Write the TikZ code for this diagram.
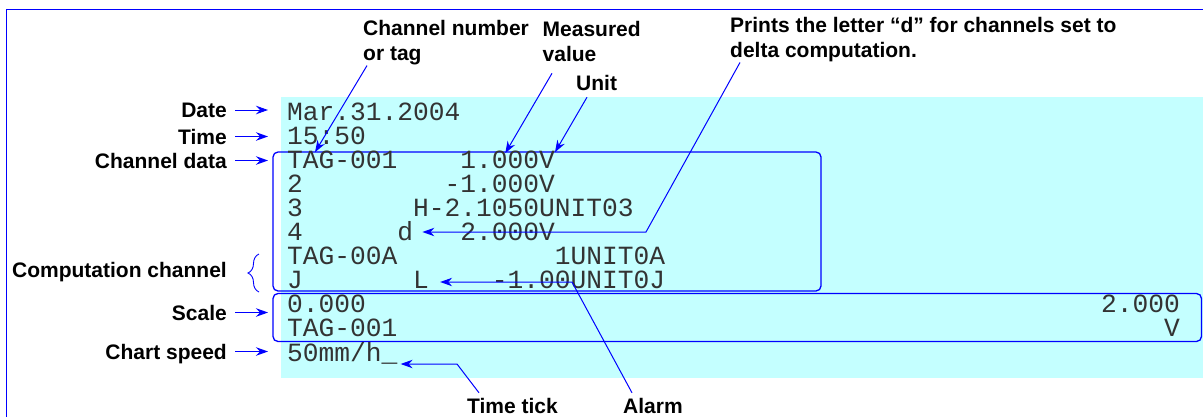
\documentclass[tikz,border=0pt]{standalone}
\usepackage{fontspec}
\setmainfont{Liberation Sans}
\newfontfamily\monofont{Liberation Mono}
\usetikzlibrary{arrows.meta, decorations.pathreplacing, calc}
\definecolor{mBlue}{HTML}{0000FF}
\definecolor{mCyan}{HTML}{C4FFFF}
\definecolor{mText}{HTML}{333333}
\newcommand{\colw}{15.75}
\tikzset{
  lbl/.style={font=\bfseries\fontsize{21}{25}\selectfont, inner sep=0pt,
              text height=15pt, text depth=0pt},
  tlbl/.style={font=\bfseries\fontsize{21}{25}\selectfont, inner sep=0pt,
               align=left, anchor=north west},
  mono/.style={font=\monofont\fontsize{26.25}{24}\selectfont, text=mText,
               inner sep=0pt, anchor=base west},
  callout/.style={mBlue, line width=1pt, -{Stealth[length=12pt, width=8.5pt, inset=4pt]}},
  grp/.style={draw=mBlue, line width=1.3pt, rounded corners=5pt},
}

\begin{document}
\begin{tikzpicture}[x=1pt, y=-1pt]
    \useasboundingbox (0,0) rectangle (1203,416);
    \fill[mCyan] (281,97) rectangle (1203,378);
    \draw[mBlue, line width=1.2pt] (6.5,420) -- (6.5,9.5) -- (1210,9.5);
    \draw[grp] (273,152) rectangle (821,291);
    \draw[grp] (273,293.5) rectangle (1201.5,341.5);
    \node[mono] (date) at (287,120) {Mar.31.2004};
    \node[mono] (time) at (287,144.1) {15:50};
    \node[mono] (tag1) at (287,168.2) {TAG-001};
    \node[mono] (val1) at ({287+11*\colw},168.2) {1.000};
    \node[mono] (unit1) at ({287+16*\colw},168.2) {V};
    \node[mono] (ch2) at (287,192.3) {2};
    \node[mono] (val2) at ({287+10*\colw},192.3) {-1.000V};
    \node[mono] (ch3) at (287,216.4) {3};
    \node[mono] (val3) at ({287+8*\colw},216.4) {H-2.1050UNIT03};
    \node[mono] (ch4) at (287,240.5) {4};
    \node[mono] (delta) at ({287+7*\colw},240.5) {d};
    \node[mono] (val4) at ({287+11*\colw},240.5) {2.000V};
    \node[mono] (chA) at (287,264.6) {TAG-00A};
    \node[mono] (valA) at ({287+17*\colw},264.6) {1UNIT0A};
    \node[mono] (chJ) at (287,288.7) {J};
    \node[mono] (alarm) at ({287+8*\colw},288.7) {L};
    \node[mono] (valJ) at ({287+13*\colw},288.7) {-1.00UNIT0J};
    \node[mono] (smin) at (287,312.8) {0.000};
    \node[mono, anchor=base east] (smax) at (1180,312.8) {2.000};
    \node[mono] (stag) at (287,336.9) {TAG-001};
    \node[mono, anchor=base east] (sunit) at (1180,336.9) {V};
    \node[mono] (speed) at (287,361) {50mm/h};
    \node[mono] (tick) at ({287+6*\colw},361) {\_};
    \node[lbl, anchor=east] (lDate) at (227,110) {Date};
    \node[lbl, anchor=east] (lTime) at (227,136.5) {Time};
    \node[lbl, anchor=east] (lData) at (227,160.5) {Channel data};
    \node[lbl, anchor=east] (lComp) at (227,270) {Computation channel};
    \node[lbl, anchor=east] (lScale) at (227,312.5) {Scale};
    \node[lbl, anchor=east] (lSpeed) at (227,351.5) {Chart speed};
    \coordinate (tipx) at (268,0);
    \foreach \n in {lDate,lTime,lData,lScale,lSpeed}
      \draw[callout] ([xshift=8pt]\n.east) -- (\n -| tipx);
    \draw[mBlue, line width=0.9pt, decorate, decoration={brace, amplitude=11pt}]
      (259,292) -- (259,254);
    \node[tlbl] (lChan) at (363,20.5) {Channel number\\or tag};
    \node[tlbl] (lMeas) at (542.5,21.5) {Measured\\value};
    \node[lbl, anchor=west] (lUnit) at (576,83) {Unit};
    \node[tlbl] (lPrints) at (730,17.5) {Prints the letter “d” for channels set to\\delta computation.};
    \node[lbl, anchor=west] (lTick) at (467,405.5) {Time tick};
    \node[lbl, anchor=west] (lAlarm) at (623,405.5) {Alarm};
    \coordinate (dbend) at (646,232);
    \coordinate (abend) at (572,282);
    \coordinate (tbend) at (457,364);
    \draw[callout] ([xshift=4pt]lChan.south west) -- ([shift={(28pt,16pt)}]tag1.base west);
    \draw[callout] ([shift={(9.5pt,-11pt)}]lMeas.south west) -- ([shift={(45pt,15pt)}]val1.base west);
    \draw[callout] ([shift={(11pt,-6.5pt)}]lUnit.south west) -- ([shift={(16pt,16pt)}]unit1.base west);
    \draw[callout] ([xshift=10pt]lPrints.south west) -- (dbend) -- ([shift={(9pt,8.5pt)}]delta.base east);
    \draw[callout] ([shift={(9pt,5pt)}]lAlarm.north west) -- (abend) -- ([shift={(11pt,6.7pt)}]alarm.base east);
    \draw[callout] ([shift={(12pt,5pt)}]lTick.north west) -- (tbend) -- ([shift={(3pt,-3pt)}]tick.base east);
  \end{tikzpicture}
\end{document}
